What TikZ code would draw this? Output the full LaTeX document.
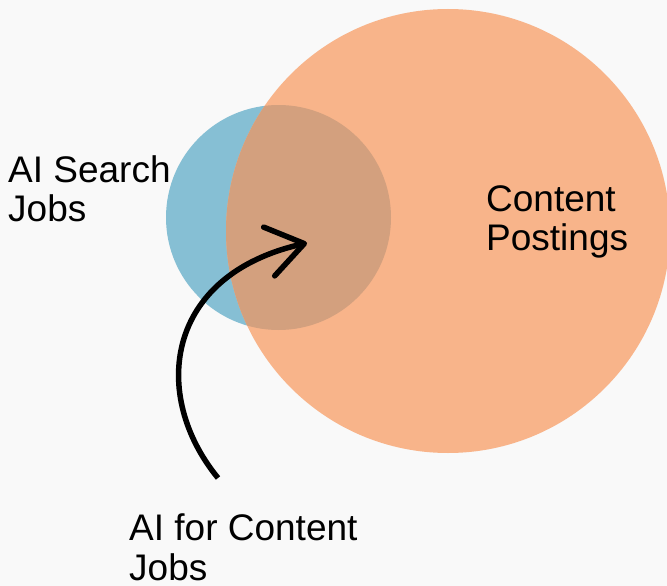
\documentclass[tikz,border=0pt]{standalone}
\usepackage{fontspec}
\setmainfont{Liberation Sans}
\usepackage{tikz}
\usetikzlibrary{arrows.meta, positioning}
\definecolor{bggrey}{HTML}{F9F9F9}
\definecolor{searchblue}{HTML}{86BFD4}
\definecolor{contentorange}{HTML}{F8B48A}
\definecolor{overlapbrown}{HTML}{D3A07E}
\tikzstyle{setcircle} = [circle, inner sep=0, draw=none]
\tikzstyle{label} = [inner sep=0, align=left, anchor=base west,
                     font=\fontsize{37}{39.5}\selectfont]
\tikzstyle{pointer} = [line width=5.5pt, -{Straight Barb[length=36pt, width=50pt, round]}]

\begin{document}
\begin{tikzpicture}[x=1pt, y=-1pt]
				\useasboundingbox [fill=bggrey] (0, 0) rectangle (667, 586);

				% the two sets
				\node (Search) [setcircle, fill=searchblue, minimum size=225pt] at (278.5, 217.5) {};
				\node (Content) [setcircle, fill=contentorange, minimum size=444pt] at (448, 231) {};

				% overlap
				\begin{scope}
					\clip (Search.center) circle (112.5pt);
					\fill [overlapbrown] (Content.center) circle (222pt);
				\end{scope}

				% labels (base is the last line)
				\node (SearchLabel) [label] at (8, 221.5) {AI Search\\Jobs};
				\node (ContentLabel) [label] at (486, 250.5) {Content\\Postings};
				\node (BothLabel) [label] at (129, 580) {AI for Content\\Jobs};

				% pointer into the overlap
				\coordinate (PointerIn) at (218, 478);
				\coordinate (PointerOut) at (307, 243);
				\draw [pointer] (PointerIn) .. controls (150, 395) and (165, 275) .. (PointerOut);
			\end{tikzpicture}
\end{document}
